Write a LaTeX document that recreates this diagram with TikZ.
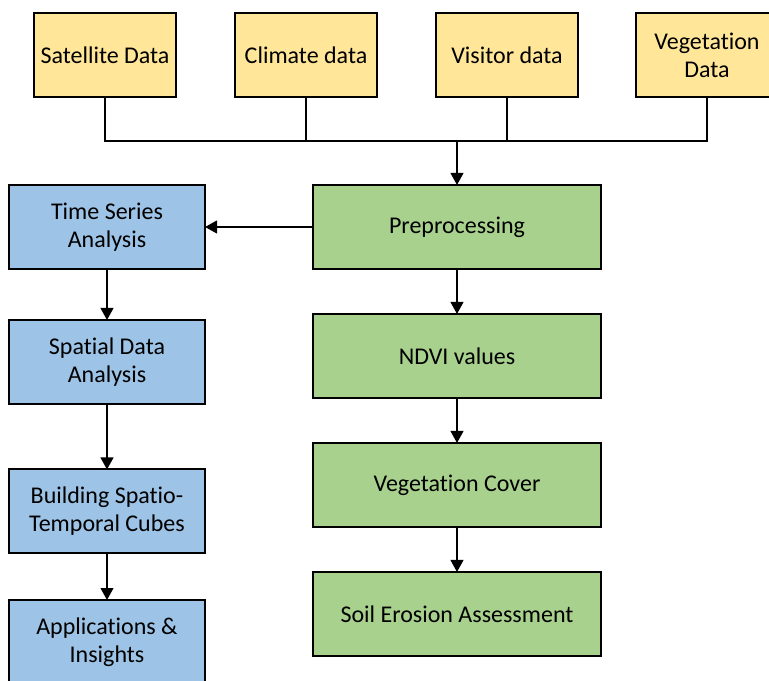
\documentclass[tikz,border=0pt]{standalone}
\usepackage{fontspec}
\setmainfont[Ligatures=NoCommon]{Carlito}
\usetikzlibrary{arrows.meta}
\definecolor{ylw}{HTML}{FFE699}
\definecolor{grn}{HTML}{A9D18E}
\definecolor{blu}{HTML}{9DC3E6}
\tikzset{
  box/.style={draw=black, line width=1.5pt, inner sep=0pt, outer sep=0pt, align=center,
    font=\fontsize{18pt}{21pt}\selectfont, text=black},
  ybox/.style={box, fill=ylw, minimum width=106.5pt, minimum height=63pt},
  gbox/.style={box, fill=grn, minimum width=216pt, minimum height=63pt},
  bbox/.style={box, fill=blu, minimum width=147pt, minimum height=63pt},
  conn/.style={line width=1.5pt, draw=black},
  arr/.style={conn, -{Triangle[length=9pt,width=9.5pt]}}
}
\begin{document}
\begin{tikzpicture}[x=0.75pt,y=-0.75pt]
\useasboundingbox (0,0) rectangle (769,681);
\clip (0,0) rectangle (769,681);
\fill[white] (0,0) rectangle (769,681);
% top sources
\node[ybox] (sat) at (105,55) {Satellite Data};
\node[ybox] (clim) at (306,55) {Climate data};
\node[ybox] (vis) at (507,55) {Visitor data};
\node[ybox] (veg) at (707,55) {Vegetation\\Data};
% green column
\node[gbox] (pre) at (457,227) {Preprocessing};
\node[gbox] (ndvi) at (457,356) {NDVI values};
\node[gbox] (vcov) at (457,485) {Vegetation Cover};
\node[gbox] (soil) at (457,614) {Soil Erosion Assessment};
% blue column
\node[bbox] (tsa) at (107,227) {Time Series\\Analysis};
\node[bbox] (sda) at (107,362) {Spatial Data\\Analysis};
\node[bbox] (bst) at (107,511.5) {Building Spatio-\\Temporal Cubes};
\node[bbox] (app) at (107,642) {Applications \&\\Insights};
% bus
\coordinate (bus) at (457,141);
\draw[conn] (sat.south) |- (bus) -| (veg.south);
\draw[conn] (clim.south) -- (clim.south |- bus);
\draw[conn] (vis.south) -- (vis.south |- bus);
\draw[arr] (bus) -- (pre.north);
% arrows
\draw[arr] (pre.west) -- (tsa.east);
\draw[arr] (pre) -- (ndvi);
\draw[arr] (ndvi) -- (vcov);
\draw[arr] (vcov) -- (soil);
\draw[arr] (tsa) -- (sda);
\draw[arr] (sda) -- (bst);
\draw[arr] (bst) -- (app);
\end{tikzpicture}
\end{document}
